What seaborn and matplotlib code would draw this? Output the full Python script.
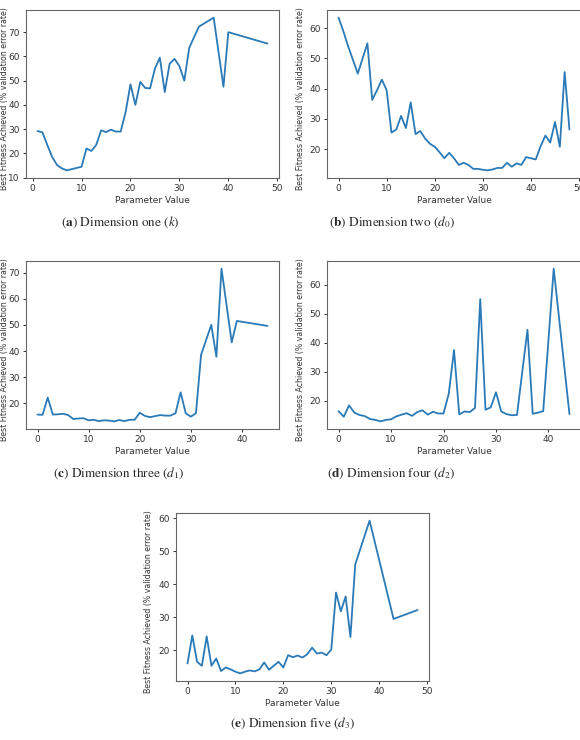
import matplotlib
matplotlib.use("Agg")
import matplotlib.pyplot as plt
import seaborn as sns

# Dimension one (k)
x_a = [1, 2, 3, 4, 5, 6, 7, 8, 9, 10, 11, 12, 13, 14, 15, 16, 17, 18, 19, 20,
       21, 22, 23, 24, 25, 26, 27, 28, 29, 30, 31, 32, 33, 34, 37, 39, 40, 48]
y_a = [29.2, 28.7, 23.5, 18.5, 15.2, 13.8, 13.0, 13.5, 14.0, 14.5, 22.0, 21.0,
       23.5, 29.5, 28.8, 29.8, 29.0, 29.0, 37.0, 48.5, 40.0, 49.5, 47.0, 46.8,
       55.0, 59.5, 45.3, 57.0, 59.0, 56.0, 50.0, 63.5, 68.0, 72.3, 76.0, 47.5,
       70.0, 65.3]

# Dimension two (d0)
x_b = list(range(0, 49))
y_b = [63.5, 59.0, 54.0, 49.5, 45.0, 50.0, 55.0, 36.3, 39.5, 43.0, 39.5, 25.5,
       26.5, 31.0, 27.0, 35.5, 25.0, 26.0, 23.5, 21.8, 20.8, 19.0, 17.0, 18.8,
       17.0, 14.8, 15.5, 14.8, 13.5, 13.5, 13.2, 13.0, 13.3, 13.8, 13.8, 15.5,
       14.2, 15.3, 14.8, 17.4, 17.0, 16.6, 21.0, 24.5, 22.2, 29.0, 20.8, 45.5,
       26.5]

# Dimension three (d1)
x_c = list(range(0, 33)) + [34, 35, 36, 38, 39, 45]
y_c = [15.7, 15.6, 22.2, 15.7, 15.8, 16.0, 15.5, 14.0, 14.2, 14.3, 13.5, 13.7,
       13.2, 13.5, 13.4, 13.1, 13.6, 13.2, 13.7, 13.7, 16.4, 15.2, 14.7, 15.1,
       15.5, 15.3, 15.3, 16.2, 24.2, 16.2, 14.9, 16.2, 38.5, 50.0, 37.8, 71.5,
       43.3, 51.5, 49.6]

# Dimension four (d2)
x_d = list(range(0, 35)) + [36, 37, 38, 39, 41, 44]
y_d = [16.5, 14.6, 18.5, 16.0, 15.2, 14.8, 13.8, 13.5, 13.0, 13.5, 13.7, 14.7,
       15.3, 15.8, 14.9, 16.2, 16.8, 15.3, 16.3, 15.7, 15.7, 22.5, 37.5, 15.4,
       16.4, 16.2, 17.6, 55.0, 17.0, 17.8, 23.0, 16.4, 15.5, 15.1, 15.2, 44.5,
       15.6, 16.0, 16.5, 65.5, 15.5]

# Dimension five (d3)
x_e = list(range(0, 36)) + [38, 43, 48]
y_e = [16.0, 24.5, 16.5, 15.3, 24.2, 15.3, 17.5, 13.7, 14.8, 14.2, 13.5, 13.0,
       13.5, 13.9, 13.6, 14.2, 16.3, 14.1, 15.3, 16.5, 14.8, 18.5, 17.9, 18.4,
       17.8, 18.8, 20.8, 19.0, 19.3, 18.5, 20.2, 37.5, 31.8, 36.3, 24.0, 46.0,
       59.3, 29.5, 32.2]

captions = [r"($\mathbf{a}$) Dimension one ($k$)",
            r"($\mathbf{b}$) Dimension two ($d_0$)",
            r"($\mathbf{c}$) Dimension three ($d_1$)",
            r"($\mathbf{d}$) Dimension four ($d_2$)",
            r"($\mathbf{e}$) Dimension five ($d_3$)"]

sns.set_style("ticks")
plt.rcParams['font.family'] = ['DejaVu Sans']
plt.rcParams['mathtext.fontset'] = 'stix'

W, H = 580, 740
fig = plt.figure(figsize=(W / 100, H / 100), dpi=100)

# pixel boxes: left, top, width, height ; ylabel centre x in pixels
boxes = [(26, 10, 253, 168), (327, 10, 254, 168),
         (26, 261, 253, 168), (327, 261, 254, 168),
         (176, 513, 253, 168)]
ylab_x = [9, 305, 9, 305, 153]
cap_pos = [(120, 222), (392, 222), (119, 473), (391, 473), (293, 723)]
series = [(x_a, y_a), (x_b, y_b), (x_c, y_c), (x_d, y_d), (x_e, y_e)]

for (l, t, w, h), yx, (xs, ys), cap, (cx, cy) in zip(boxes, ylab_x, series, captions, cap_pos):
    ax = fig.add_axes([l / W, 1 - (t + h) / H, w / W, h / H])
    sns.lineplot(x=xs, y=ys, ax=ax, color="#2a7ab8", linewidth=1.3)
    ax.set_xlabel("Parameter Value", fontsize=6.5, color="#333333", labelpad=2)
    ax.set_ylabel("Best Fitness Achieved (% validation error rate)", fontsize=5.7,
                  color="#333333")
    ax.yaxis.set_label_coords((yx - l) / w, 0.47)
    ax.tick_params(labelsize=6.5, length=2.5, width=0.7, pad=2, colors="#333333")
    for s in ax.spines.values():
        s.set_visible(True)
        s.set_color("#666666")
        s.set_linewidth(0.8)
    fig.text(cx / W, 1 - cy / H, cap, ha="center", va="center",
             fontsize=9.5, family="STIXGeneral")

fig.savefig("out.png", dpi=100)
